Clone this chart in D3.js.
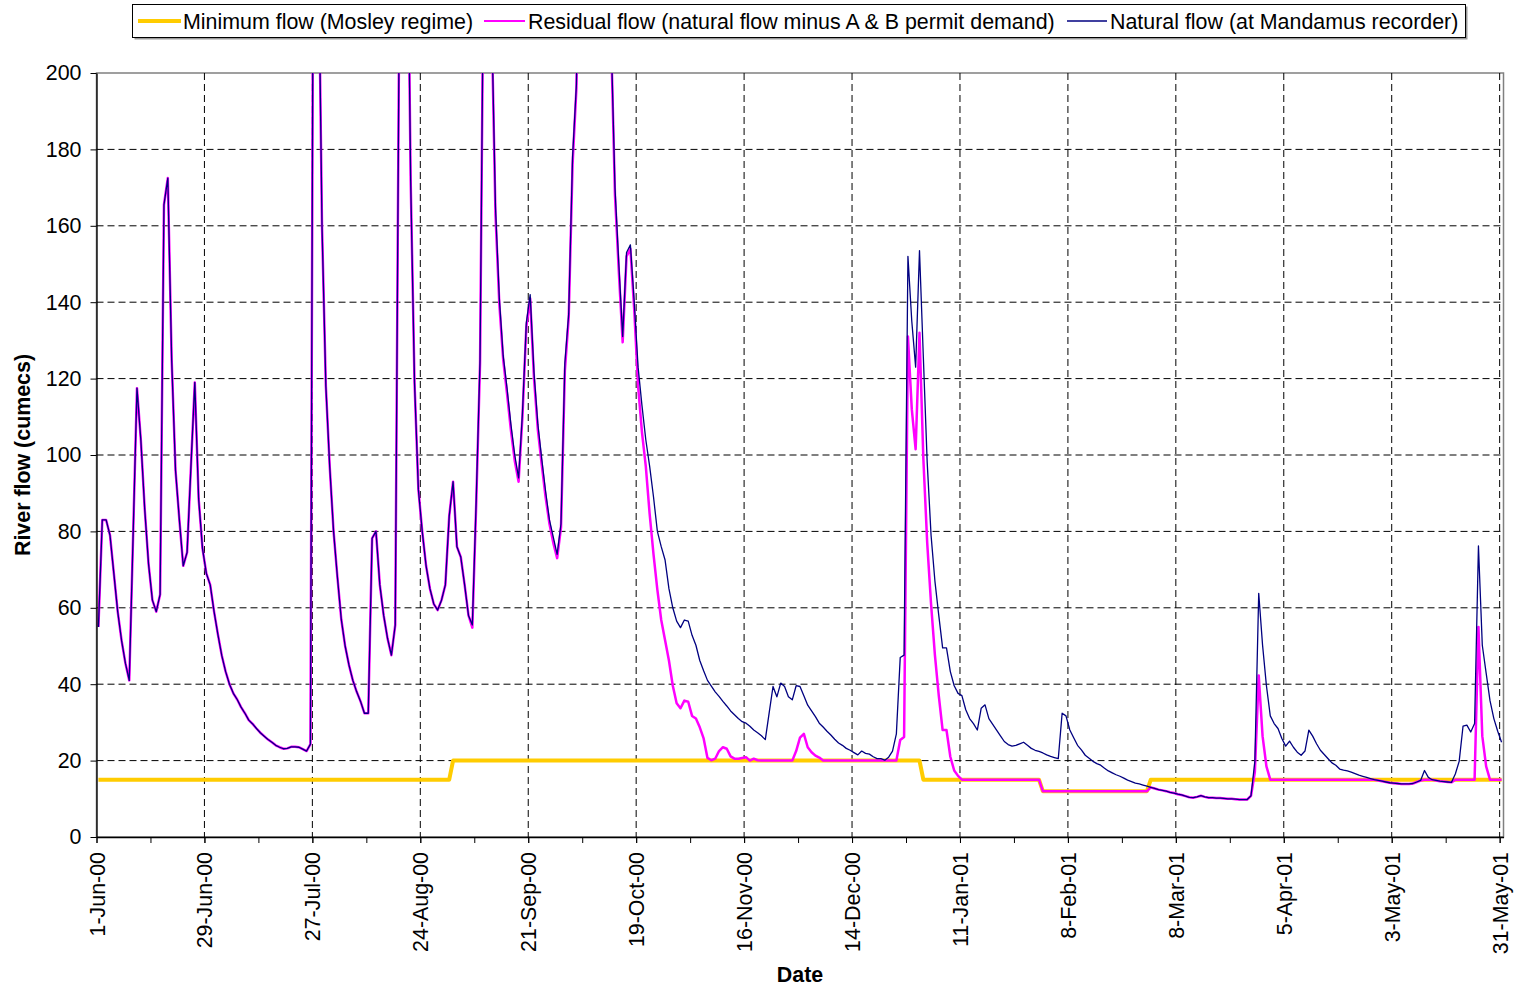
<!DOCTYPE html>
<html><head><meta charset="utf-8">
<script src="https://cdn.jsdelivr.net/npm/d3@7"></script>
<style>
body{margin:0;background:#fff;}
svg{font-family:"Liberation Sans", Arial, sans-serif;}
</style></head><body>
<svg id="chart" width="1517" height="989"></svg>
<script>
// ---------------- DATA ----------------
const startDate = "2000-06-01"; // first daily value; one value per day
const tickLabels = ["1-Jun-00","29-Jun-00","27-Jul-00","24-Aug-00","21-Sep-00","19-Oct-00","16-Nov-00",
  "14-Dec-00","11-Jan-01","8-Feb-01","8-Mar-01","5-Apr-01","3-May-01","31-May-01"];
const yTicks = [0,20,40,60,80,100,120,140,160,180,200];
const seriesNames = ["Minimum flow (Mosley regime)",
  "Residual flow (natural flow minus A & B permit demand)",
  "Natural flow (at Mandamus recorder)"];

// Natural flow, cumecs, one per day from 1-Jun-00
const naturalFlow = [
55,83,83,79,69,59,51.5,45.5,41,79,
117.5,104,86,71.5,62,59,63.5,165.5,172.5,125,
96,83,71,74.5,97,119,88.5,75.5,69,66,
59,53,47.5,43.3,40,37.6,36,34,32.4,30.6,
29.6,28.4,27.3,26.4,25.5,24.8,24,23.5,23.1,23.2,
23.6,23.6,23.5,23,22.5,24.3,320,240,160,118,
97,80,68,57,50,45,41,38,35.5,32.4,
32.4,78.2,80,66,58,52,47.6,55.5,210,330,
260,172,119,91,80,71,65,61,59.4,62,
66,84,93,76,73.3,66,58,55.5,88,125,
240,290,215,165,141,126,117.5,108,100,94,
111,134.5,142,121.5,108,99,90.5,83,78.5,74,
82,124,137,178,197,260,300,330,290,270,
310,280,245,210,170,150,131,153,155,140,
123,113,104,97,89,80,76,72.5,65,60,
56.5,54.8,56.8,56.5,52.8,50.2,46.2,43.5,41,39.5,
38,36.8,35.5,34.3,33,32,31,30.2,29.8,29,
28,27.3,26.5,25.5,32.5,39.4,36.7,40.3,39.4,36.7,
35.9,39.6,39.4,37,34.5,33,31.5,29.8,28.8,27.7,
26.7,25.6,24.6,24,23.2,22.7,22.1,21.5,22.5,21.9,
21.7,21,20.5,20.5,20.1,20.9,22.5,27,47,47.6,
152,135,123,153.5,125.5,98,79,67,58,49.5,
49.5,43.3,39.6,37.6,37,33.3,31,29.7,28,33.7,
34.6,31,29.5,28,26.5,25,24.2,23.8,24,24.4,
24.8,24,23.2,22.7,22.4,22,21.5,21.1,20.8,20.5,
32.4,31.7,28,26,24,22.8,21.4,20.6,19.8,19.2,
18.8,18,17.3,16.8,16.3,15.9,15.4,14.9,14.5,14.1,
13.9,13.6,13.3,13,12.7,12.4,12.2,12,11.7,11.5,
11.2,11,10.7,10.4,10.3,10.5,10.8,10.5,10.3,10.3,
10.2,10.2,10.1,10,10,9.9,9.8,9.8,9.8,10.8,
19.8,63.8,50.2,39.6,31.7,29.7,28.4,25.8,23.8,25.1,
23.5,22.2,21.4,22.5,28,26.4,24.4,22.7,21.6,20.5,
19.4,18.8,17.8,17.5,17.3,17,16.6,16.2,15.9,15.6,
15.3,15,14.8,14.6,14.4,14.2,14.1,14,13.9,13.9,
13.9,14,14.4,14.8,17.4,15.6,15,14.8,14.6,14.5,
14.4,14.3,16.5,19.8,29,29.3,27.5,29.7,76.2,50.2,
42.9,35.7,31,27.7,24.8
];

// Residual flow, cumecs, one per day from 1-Jun-00
const residualFlow = [
55,83,83,79,69,59,51.5,45.5,41,79,
117.5,104,86,71.5,62,59,63.5,165.5,172.5,125,
96,83,71,74.5,97,119,88.5,75.5,69,66,
59,53,47.5,43.3,40,37.6,36,34,32.4,30.6,
29.6,28.4,27.3,26.4,25.5,24.8,24,23.5,23.1,23.2,
23.6,23.6,23.5,23,22.5,24.3,320,240,160,118,
97,80,68,57,50,45,41,38,35.5,32.4,
32.4,78.2,80,66,58,52,47.6,55.5,210,330,
260,172,119,91,80,71,65,61,59.4,62,
66,84,93,76,73.3,66,58,54.8,87,124,
240,290,214,163,139.5,125,116,106.5,98.5,93,
110,133.5,141,120,106.5,97.5,89,82,77,73,
81,122,136,176,196,259,299,329,289,269,
309,279,244,209,168,148,129.5,152,154,138,
118,106,97,84.5,74,64.7,56.8,51.5,46.2,39.6,
35,33.7,35.7,35.4,31.7,31,28.7,25.8,20.7,20.1,
20.5,22.5,23.5,23.1,21.1,20.5,20.5,20.7,20.9,20,
20.5,20.1,20,20,20,20,20,20,20,20,
20,22.5,26,27,23.5,22.2,21.3,20.8,20,20,
20,20,20,20,20,20,20,20,20,20,
20,20,20,20,20,20,20,20,25.4,26.2,
131,112,101.5,132,99,77,61,47.6,37,28,
28,21,17.4,16,15,15,15,15,15,15,
15,15,15,15,15,15,15,15,15,15,
15,15,15,15,15,12,12,12,12,12,
12,12,12,12,12,12,12,12,12,12,
12,12,12,12,12,12,12,12,12,12,
12,12,12,13,12.7,12.4,12.2,12,11.7,11.5,
11.2,11,10.7,10.4,10.3,10.5,10.8,10.5,10.3,10.3,
10.2,10.2,10.1,10,10,9.9,9.8,9.8,9.8,10.8,
17,42.3,26.4,18.5,15,15,15,15,15,15,
15,15,15,15,15,15,15,15,15,15,
15,15,15,15,15,15,15,15,15,15,
15,15,14.8,14.6,14.4,14.2,14.1,14,13.9,13.9,
13.9,14,14.4,14.8,15,15,15,14.8,14.6,14.5,
14.4,14.3,15,15,15,15,15,15,55,26.4,
18.5,15,15,15,15
];

// Minimum flow regime: vertices (day index from 1-Jun-00, cumecs)
const minFlowDays   = [0, 91, 92, 213, 214, 244, 245, 272, 273, 364];
const minFlowValues = [15, 15, 20, 20, 15, 15, 12, 12, 15, 15];

// ---------------- CHART ----------------
const svg = d3.select("#chart");
const pL = 96.5, pR = 1503.5, pT = 73, pB = 837;
const FONT = 21.4;

const t0 = d3.utcParse("%Y-%m-%d")(startDate);
const dayMs = 864e5;
const dateOf = i => new Date(t0.getTime() + (i + 0.5) * dayMs);

const x = d3.scaleUtc().domain([t0, d3.utcDay.offset(t0, 365)]).range([pL, pR]);
const y = d3.scaleLinear().domain([0, 200]).range([pB, pT]);

const parseTick = d3.utcParse("%d-%b-%y");
const majorDates = tickLabels.map(s => parseTick(s));
const minorDates = d3.range(0, 365, 14).map(k => d3.utcDay.offset(t0, k));

// clip
svg.append("defs").append("clipPath").attr("id", "plotClip")
  .append("rect").attr("x", pL).attr("y", pT).attr("width", pR - pL).attr("height", pB - pT);

// plot border (top/right)
svg.append("rect").attr("x", pL).attr("y", pT).attr("width", pR - pL).attr("height", pB - pT)
  .attr("fill", "none").attr("stroke", "#808080").attr("stroke-width", 1.5);

// horizontal gridlines
svg.append("g").selectAll("line").data(yTicks.filter(v => v > 0 && v < 200)).join("line")
  .attr("x1", pL).attr("x2", pR).attr("y1", d => y(d)).attr("y2", d => y(d))
  .attr("stroke", "#000").attr("stroke-width", 1).attr("stroke-dasharray", "7,4");

// vertical gridlines
svg.append("g").selectAll("line").data(majorDates.slice(1)).join("line")
  .attr("x1", d => x(d)).attr("x2", d => x(d)).attr("y1", pT).attr("y2", pB)
  .attr("stroke", "#000").attr("stroke-width", 1).attr("stroke-dasharray", "7,4");

// lines
const plot = svg.append("g").attr("clip-path", "url(#plotClip)");
const minData = minFlowDays.map((d, i) => [d, minFlowValues[i]]);
plot.append("path").datum(minData)
  .attr("fill", "none").attr("stroke", "#FFCC00").attr("stroke-width", 4).attr("stroke-linejoin", "round")
  .attr("d", d3.line().x(d => x(dateOf(d[0]))).y(d => y(d[1])));
plot.append("path").datum(residualFlow)
  .attr("fill", "none").attr("stroke", "#FF00FF").attr("stroke-width", 2.5).attr("stroke-linejoin", "round")
  .attr("d", d3.line().x((d, i) => x(dateOf(i))).y(d => y(d)));
plot.append("path").datum(naturalFlow)
  .attr("fill", "none").attr("stroke", "#000080").attr("stroke-width", 1.3).attr("stroke-linejoin", "round")
  .attr("d", d3.line().x((d, i) => x(dateOf(i))).y(d => y(d)));

// y axis
const yAxis = svg.append("g").attr("transform", `translate(${pL},0)`)
  .call(d3.axisLeft(y).tickValues(yTicks).tickSize(6).tickSizeOuter(0).tickPadding(9));
yAxis.select(".domain").attr("stroke", "#000").attr("stroke-width", 1.3);
yAxis.selectAll(".tick line").attr("stroke", "#000");
yAxis.selectAll("text").attr("font-size", FONT).attr("font-family", "Liberation Sans, Arial, sans-serif").attr("fill", "#000");

// x axis minor ticks
const xMinor = svg.append("g").attr("transform", `translate(0,${pB})`)
  .call(d3.axisBottom(x).tickValues(minorDates).tickSize(6).tickSizeOuter(0).tickFormat(""));
xMinor.select(".domain").attr("stroke", "#000").attr("stroke-width", 1.3);
xMinor.selectAll(".tick line").attr("stroke", "#000");

// x axis major labels
const fmtIdx = new Map(majorDates.map((d, i) => [+d, tickLabels[i]]));
const xAxis = svg.append("g").attr("transform", `translate(0,${pB})`)
  .call(d3.axisBottom(x).tickValues(majorDates).tickSize(6).tickSizeOuter(0).tickFormat(d => fmtIdx.get(+d)));
xAxis.select(".domain").remove();
xAxis.selectAll(".tick line").attr("stroke", "#000");
xAxis.selectAll("text")
  .attr("font-size", FONT).attr("font-family", "Liberation Sans, Arial, sans-serif").attr("fill", "#000")
  .attr("transform", "rotate(-90)").attr("text-anchor", "end")
  .attr("x", -15).attr("y", 0).attr("dy", "0.35em");

// axis titles
svg.append("text").attr("x", 800).attr("y", 982).attr("text-anchor", "middle")
  .attr("font-size", FONT).attr("font-weight", "bold").text("Date");
svg.append("text").attr("transform", "translate(30,455) rotate(-90)").attr("text-anchor", "middle")
  .attr("font-size", FONT).attr("font-weight", "bold").text("River flow (cumecs)");

// legend
const lg = svg.append("g");
lg.append("rect").attr("x", 134.5).attr("y", 6.5).attr("width", 1333).attr("height", 33).attr("fill", "#9a9a9a");
lg.append("rect").attr("x", 132.5).attr("y", 4.5).attr("width", 1333).attr("height", 33)
  .attr("fill", "#fff").attr("stroke", "#000").attr("stroke-width", 1);
const legendItems = [
  {name: seriesNames[0], color: "#FFCC00", w: 4, x0: 138, x1: 181, tx: 183},
  {name: seriesNames[1], color: "#FF00FF", w: 2, x0: 484, x1: 525, tx: 528},
  {name: seriesNames[2], color: "#000080", w: 1.3, x0: 1067, x1: 1107, tx: 1110}
];
legendItems.forEach(it => {
  lg.append("line").attr("x1", it.x0).attr("x2", it.x1).attr("y1", 21).attr("y2", 21)
    .attr("stroke", it.color).attr("stroke-width", it.w);
  lg.append("text").attr("x", it.tx).attr("y", 28.5).attr("font-size", FONT).attr("fill", "#000").text(it.name);
});
</script>
</body></html>
